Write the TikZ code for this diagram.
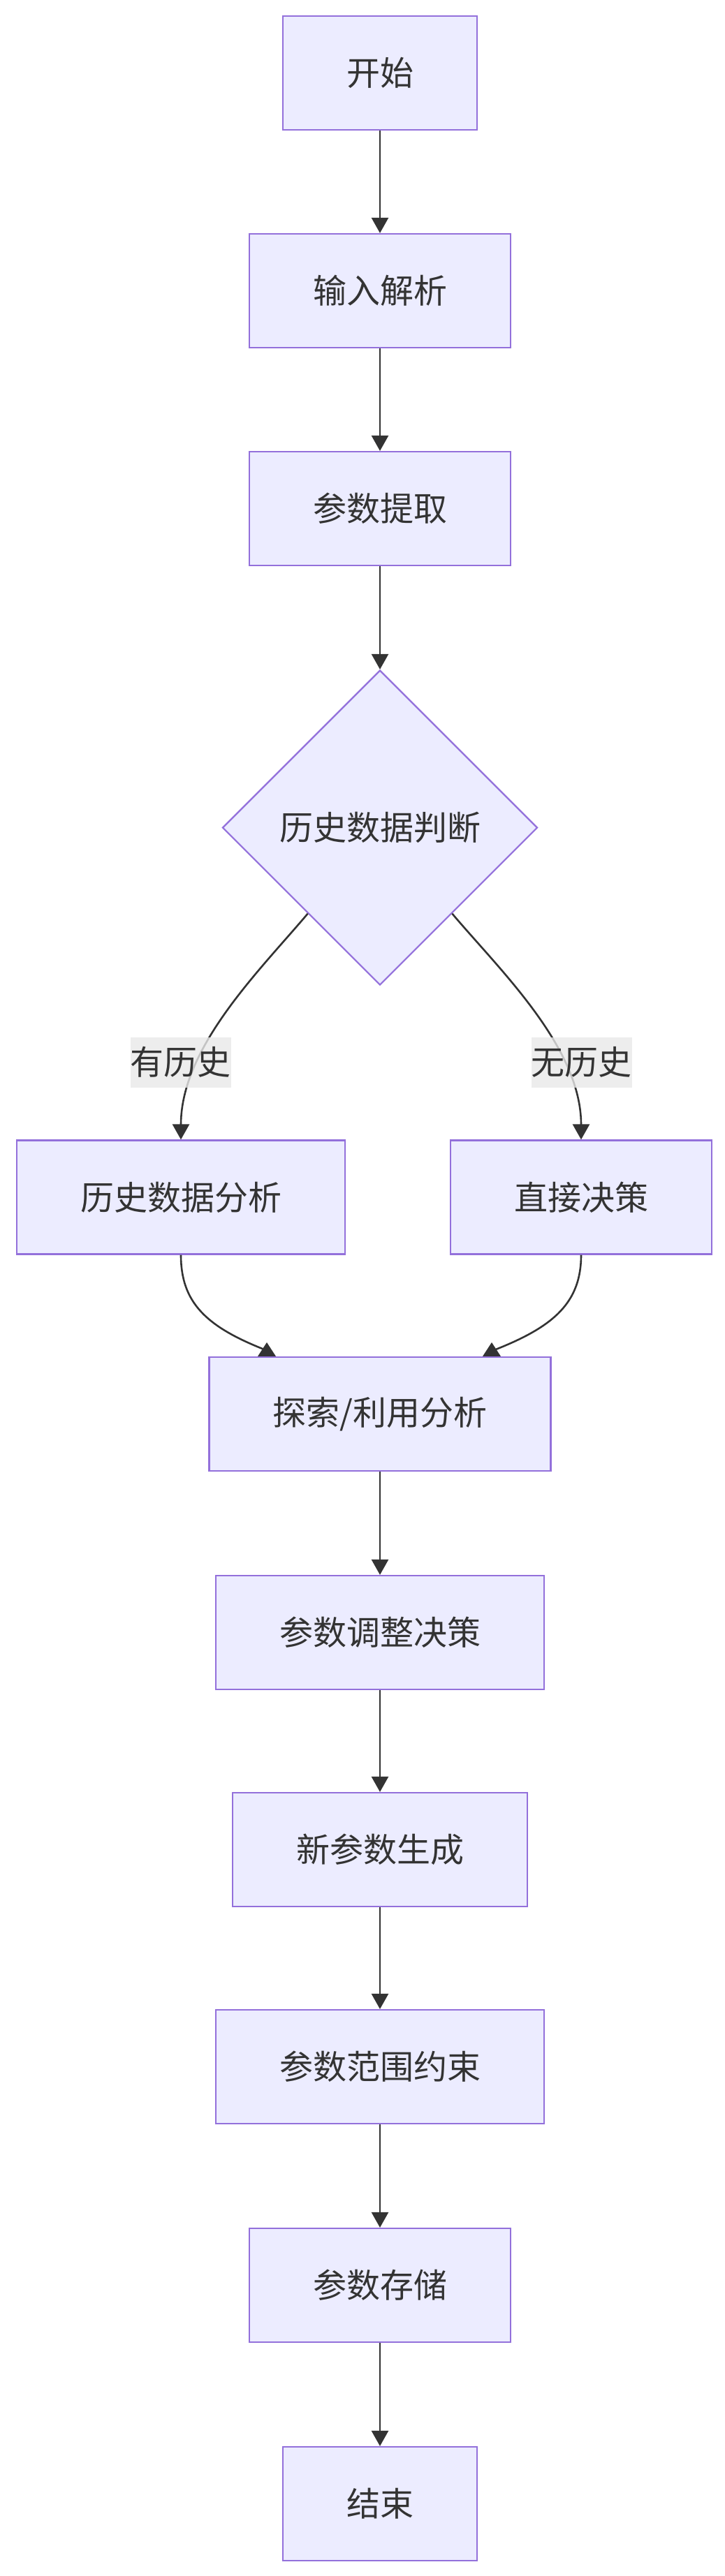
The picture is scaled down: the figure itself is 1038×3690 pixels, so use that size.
\documentclass[tikz,border=0pt]{standalone}
\usepackage{fontspec}
\usetikzlibrary{shapes.geometric,arrows.meta,calc}
\newfontfamily\cjk{Noto Sans CJK SC}
\definecolor{boxfill}{HTML}{ECECFF}
\definecolor{boxline}{HTML}{9370DB}
\definecolor{edgecol}{HTML}{333333}
\definecolor{lblfill}{HTML}{E8E8E8}
\tikzset{
  box/.style={draw=boxline, fill=boxfill, line width=1.1pt, inner xsep=45.5pt,
    minimum height=81.5pt, text=edgecol, font=\cjk\fontsize{24pt}{28pt}\selectfont},
  decide/.style={box, shape=diamond, aspect=1, inner sep=0pt,
    minimum width=225.5pt, minimum height=225.5pt},
  elabel/.style={fill=lblfill, fill opacity=0.8, text opacity=1, inner xsep=0pt,
    minimum height=36pt, text=edgecol, font=\cjk\fontsize{24pt}{28pt}\selectfont},
  link/.style={draw=edgecol, line width=1.3pt},
  flow/.style={link, -{Triangle[width=12pt,length=11pt]}},
}
\begin{document}
\begin{tikzpicture}[x=0.5pt,y=-0.5pt]
  \useasboundingbox (0,0) rectangle (1038,3690);
  \node[box] (start) at (544,104.5) {开始};
  \node[box] (parse) at (544,416.5) {输入解析};
  \node[box] (extract) at (544,728.5) {参数提取};
  \node[decide] (check) at (544,1185.5) {历史数据判断};
  \node[box] (hist) at (259,1715) {历史数据分析};
  \node[box] (direct) at (832,1715) {直接决策};
  \node[box] (explore) at (544,2025.5) {探索/利用分析};
  \node[box] (adjust) at (544,2338.5) {参数调整决策};
  \node[box] (newpar) at (544,2649.5) {新参数生成};
  \node[box] (bound) at (544,2960.5) {参数范围约束};
  \node[box] (store) at (544,3273.5) {参数存储};
  \node[box] (finish) at (544,3586.5) {结束};

  \draw[flow] (start) -- (parse);
  \draw[flow] (parse) -- (extract);
  \draw[flow] (extract) -- (check);
  \draw[flow] (check.230) .. controls (372,1390) and (259,1500) .. (hist.north);
  \draw[flow] (check.310) .. controls (716,1390) and (832,1500) .. (direct.north);
  \node[elabel] (yes) at (258.5,1521.5) {有历史};
  \node[elabel] (no) at (832.5,1521.5) {无历史};

  % the two merge arrows end in upright tips
  \coordinate (inL) at ($(explore.north)+(-166,-10)$);
  \coordinate (inR) at ($(explore.north)+(166,-10)$);
  \draw[link] (hist.south) .. controls +(0,68) and (295,1900) .. (inL);
  \draw[link] (direct.south) .. controls +(0,68) and (793,1900) .. (inR);
  \fill[edgecol] ($(explore.north)+(-175,0)$) -- ++(26,0) -- ++(-13,-20) -- cycle;
  \fill[edgecol] ($(explore.north)+(147,0)$) -- ++(26,0) -- ++(-13,-20) -- cycle;

  \draw[flow] (explore) -- (adjust);
  \draw[flow] (adjust) -- (newpar);
  \draw[flow] (newpar) -- (bound);
  \draw[flow] (bound) -- (store);
  \draw[flow] (store) -- (finish);
\end{tikzpicture}
\end{document}
